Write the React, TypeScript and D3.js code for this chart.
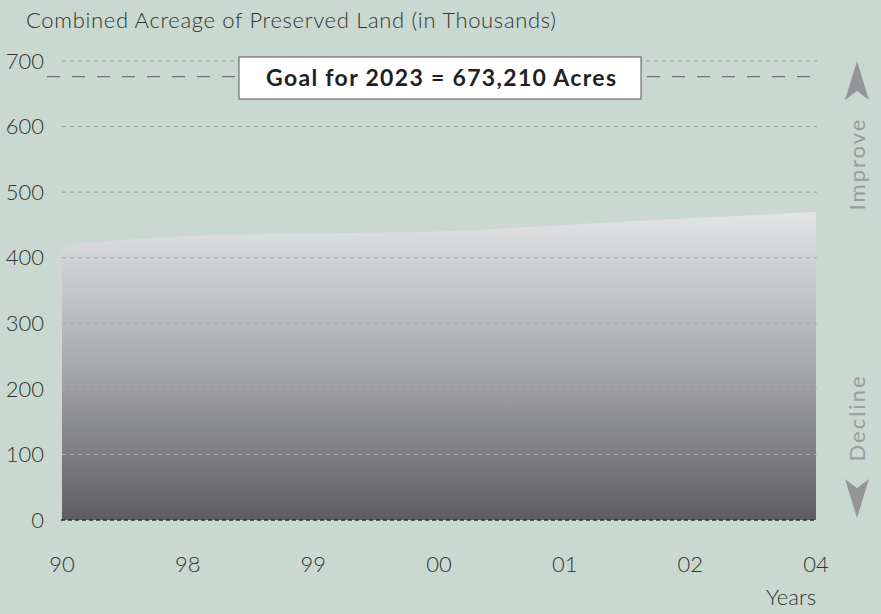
import React from "react";
import * as d3 from "d3";

const years = ["90", "98", "99", "00", "01", "02", "04"];
const acreage = [419, 433, 437, 440, 450, 460, 470];
const yTicks = [0, 100, 200, 300, 400, 500, 600, 700];
const goalValue = 673.21;
const goalLabel = "Goal for 2023 = 673,210 Acres";
const title = "Combined Acreage of Preserved Land (in Thousands)";

const W = 881;
const H = 614;
const FONT = "Lato, 'Open Sans', sans-serif";

export default function App() {
  const x = d3.scalePoint<string>().domain(years).range([62, 816]);
  const y = d3.scaleLinear().domain([0, 700]).range([520, 61]);
  const data = years.map((k, i) => ({ k, v: acreage[i] }));
  const area = d3
    .area<{ k: string; v: number }>()
    .x((d) => x(d.k) as number)
    .y0(y(0))
    .y1((d) => y(d.v))
    .curve(d3.curveMonotoneX);

  const gy = y(goalValue) - 2;
  const arrowX = 857;

  return (
    <svg width={W} height={H} style={{ position: "absolute", left: 0, top: 0, display: "block" }}>
      <defs>
        <linearGradient id="ag" x1="0" y1={y(480)} x2="0" y2={y(0)} gradientUnits="userSpaceOnUse">
          <stop offset="0" stopColor="#e6e7e9" />
          <stop offset="0.5" stopColor="#a9aaae" />
          <stop offset="1" stopColor="#5e5e62" />
        </linearGradient>
      </defs>
      <rect x={0} y={0} width={W} height={H} fill="#c9d9d1" />
      <text x={26} y={28} fontFamily={FONT} fontSize={22} fill="#333" fontWeight={300} textLength={530} lengthAdjust="spacing">
        {title}
      </text>

      <path d={area(data) || ""} fill="url(#ag)" />

      {yTicks.filter((t) => t > 0).map((t) => (
        <line
          key={t}
          x1={62}
          x2={817}
          y1={y(t)}
          y2={y(t)}
          stroke={t >= 500 ? "#9a9c9c" : "#a8a8ac"}
          strokeWidth={1}
          strokeDasharray="4 4"
        />
      ))}
      <line x1={61} x2={816} y1={y(0)} y2={y(0)} stroke="#2e2e30" strokeWidth={1.5} strokeDasharray="4 3" />

      <line x1={47} x2={812} y1={gy} y2={gy} stroke="#6f7472" strokeWidth={1.2} strokeDasharray="13 12" />
      <rect x={239} y={57} width={402} height={42} fill="#ffffff" stroke="#555" strokeWidth={1} />
      <text x={441} y={86} textAnchor="middle" fontFamily={FONT} fontWeight={700} fontSize={23} fill="#231f20" textLength={350} lengthAdjust="spacing">
        {goalLabel}
      </text>

      {yTicks.map((t) => (
        <text
          key={t}
          x={44}
          y={y(t)}
          dy="0.35em"
          textAnchor="end"
          fontFamily={FONT}
          fontSize={22}
          fill="#333"
          fontWeight={300}
        >
          {t}
        </text>
      ))}

      {years.map((k) => (
        <text
          key={k}
          x={x(k) as number}
          y={564}
          dy="0.35em"
          textAnchor="middle"
          fontFamily={FONT}
          fontSize={22}
          fill="#333"
          fontWeight={300}
        >
          {k}
        </text>
      ))}
      <text x={816} y={605} textAnchor="end" fontFamily={FONT} fontSize={22} fill="#333" fontWeight={300}>
        Years
      </text>

      <path
        d={`M${arrowX},61 L${arrowX + 12},100 L${arrowX},91 L${arrowX - 12},100 Z`}
        fill="#939598"
      />
      <text
        transform={`translate(${arrowX + 8},164) rotate(-90)`}
        textAnchor="middle"
        fontFamily={FONT}
        fontSize={22}
        fill="#9a9c9e"
        letterSpacing={2}
      >
        Improve
      </text>
      <text
        transform={`translate(${arrowX + 8},418) rotate(-90)`}
        textAnchor="middle"
        fontFamily={FONT}
        fontSize={22}
        fill="#9a9c9e"
        letterSpacing={2}
      >
        Decline
      </text>
      <path
        d={`M${arrowX},518 L${arrowX + 12},479 L${arrowX},488 L${arrowX - 12},479 Z`}
        fill="#939598"
      />
    </svg>
  );
}
